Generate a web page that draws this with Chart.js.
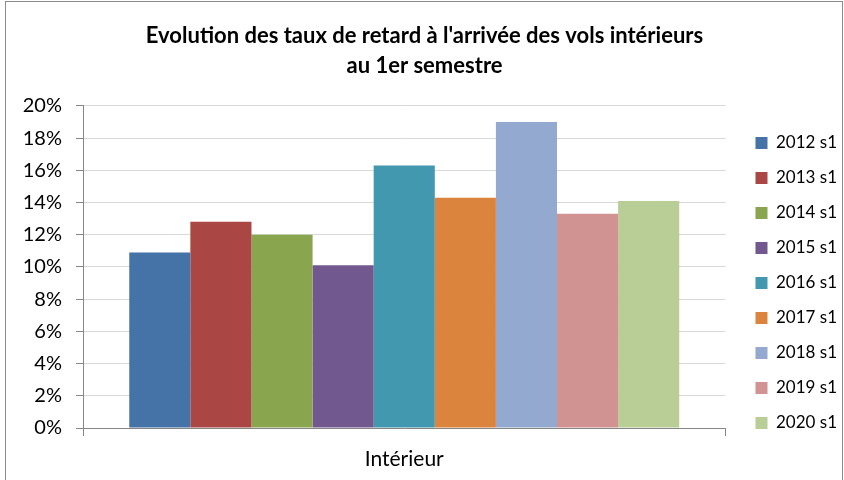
<!DOCTYPE html>
<html lang="fr">
<head>
    <meta charset="UTF-8">
    <title>Taux de retard</title>
    <style>
        html, body { margin: 0; padding: 0; overflow: hidden; background: #fff; }
        #wrap { position: relative; width: 844px; height: 480px; }
        #frame { position: absolute; left: 5px; top: 1px; width: 836px; height: 500px; border: 1px solid #8c8c8c; pointer-events: none; }
        canvas { display: block; }
    </style>
</head>
<body>
<div id="wrap">
    <canvas id="delayChart" width="844" height="480"></canvas>
    <div id="frame"></div>
</div>
<script src="https://cdn.jsdelivr.net/npm/chart.js@4.4.0/dist/chart.umd.min.js"></script>
<script>
    const categories = ['Intérieur'];
    const seriesLabels = ['2012 s1', '2013 s1', '2014 s1', '2015 s1', '2016 s1', '2017 s1', '2018 s1', '2019 s1', '2020 s1'];
    const seriesValues = [10.9, 12.8, 12.0, 10.1, 16.3, 14.3, 19.0, 13.3, 14.1];
    const seriesColors = ['#4572A7', '#AA4643', '#89A54E', '#71588F', '#4198AF', '#DB843D', '#93A9CF', '#D19392', '#B9CD96'];
    const yTicks = [0, 2, 4, 6, 8, 10, 12, 14, 16, 18, 20];

    const font = "Lato, 'Open Sans', sans-serif";

    // put the legend column where Excel had it (a bit off the plot, centred lower)
    const legendPlace = {
        id: 'legendPlace',
        afterLayout(chart) {
            const lg = chart.legend;
            const w = lg.width;
            lg.left = chart.chartArea.right + 12;
            lg.right = lg.left + w;
            lg.top = 106;
            lg.bottom = 460;
        }
    };

    const ctx = document.getElementById('delayChart').getContext('2d');
    const chart = new Chart(ctx, {
        type: 'bar',
        data: {
            labels: categories,
            datasets: seriesLabels.map((label, i) => ({
                label: label,
                data: [seriesValues[i]],
                backgroundColor: seriesColors[i],
                borderWidth: 0,
                categoryPercentage: 0.856,
                barPercentage: 1
            }))
        },
        options: {
            responsive: false,
            animation: false,
            layout: { padding: { left: 14, right: 9, top: 0, bottom: 0 } },
            plugins: {
                title: {
                    display: true,
                    text: ["Evolution des taux de retard à l'arrivée des vols intérieurs", 'au 1er semestre'],
                    color: '#000',
                    font: { family: font, size: 22, weight: 'bold', lineHeight: 1.36 },
                    padding: { top: 21, bottom: 25 }
                },
                legend: {
                    position: 'right',
                    labels: {
                        color: '#000',
                        font: { family: font, size: 17 },
                        boxWidth: 12,
                        boxHeight: 12,
                        padding: 18
                    }
                },
                tooltip: { enabled: false }
            },
            scales: {
                x: {
                    offset: true,
                    grid: { display: true, drawOnChartArea: false, drawTicks: true, tickLength: 8, offset: true, color: '#868686' },
                    border: { color: '#868686' },
                    ticks: { color: '#000', font: { family: font, size: 21 }, padding: 11 },
                    afterFit(scale) { scale.height = 52; }
                },
                y: {
                    min: 0,
                    max: 20,
                    afterBuildTicks(scale) { scale.ticks = yTicks.map(v => ({ value: v })); },
                    grid: { color: '#d9d9d9', tickColor: '#868686', tickLength: 7 },
                    border: { color: '#868686' },
                    ticks: {
                        color: '#000',
                        font: { family: font, size: 20 },
                        padding: 14,
                        callback: v => v + '%'
                    },
                    afterFit(scale) { scale.width = 69; }
                }
            }
        },
        plugins: [legendPlace]
    });
</script>
</body>
</html>
